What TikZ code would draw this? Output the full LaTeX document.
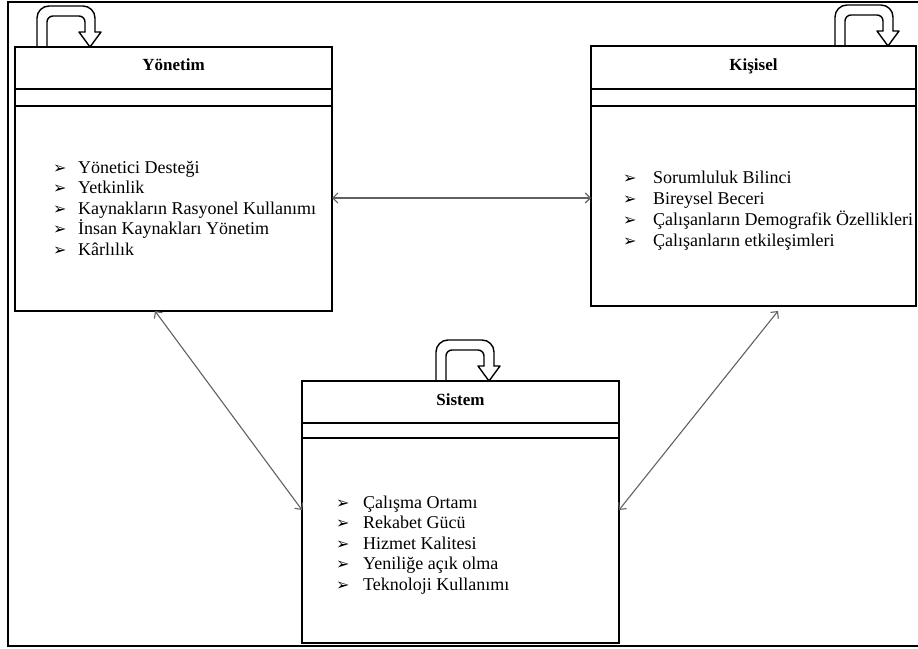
\documentclass[tikz,border=0pt]{standalone}
\usepackage{fontspec}
\setmainfont{Liberation Serif}
\newfontfamily\dejavu{DejaVu Sans}
\usetikzlibrary{arrows.meta}
\tikzset{
  box/.style={draw=black, line width=1.6pt, rectangle, inner sep=0pt, outer sep=0pt},
  sepline/.style={draw=black, line width=1.6pt},
  frame/.style={draw=black, line width=2.5pt},
  conn/.style={draw=black!62, line width=1.1pt, {Straight Barb[length=5pt,width=10pt]}-{Straight Barb[length=5pt,width=10pt]}},
  loopln/.style={draw=black, line width=1.4pt, line cap=round, line join=round},
  ttl/.style={anchor=base, inner sep=0pt, font=\fontsize{17}{20}\selectfont\bfseries},
  item/.style={anchor=base west, inner sep=0pt, font=\fontsize{18}{21}\selectfont},
  bul/.style={anchor=base west, inner sep=0pt, font=\fontsize{16}{18}\dejavu},
  uturn/.pic={
    \draw[loopln, rounded corners=6pt] (10,0) -- (10,-31) -- (48,-31) -- (48,-15);
    \draw[loopln] (48,-15) -- (42,-15) -- (53,0) -- (64,-15) -- (58,-15);
    \draw[loopln, rounded corners=12pt] (58,-15) -- (58,-41) -- (0,-41) -- (0,0);
  }
}
\begin{document}
\begin{tikzpicture}[x=1pt,y=-1pt]
\useasboundingbox (0,0) rectangle (918,648);
\begin{scope}
\clip (0,0) rectangle (918,648);
\draw[frame] (8,2) rectangle (940,646);
\end{scope}

% boxes
\node[box, minimum width=317pt, minimum height=264pt] (yon) at (173.5,179) {};
\node[box, minimum width=325pt, minimum height=260pt] (kis) at (753.5,176) {};
\node[box, minimum width=317pt, minimum height=262pt] (sis) at (460.5,512) {};

\draw[sepline] (yon.west |- 0,89) -- (yon.east |- 0,89);
\draw[sepline] (yon.west |- 0,106) -- (yon.east |- 0,106);
\draw[sepline] (kis.west |- 0,89) -- (kis.east |- 0,89);
\draw[sepline] (kis.west |- 0,106) -- (kis.east |- 0,106);
\draw[sepline] (sis.west |- 0,423) -- (sis.east |- 0,423);
\draw[sepline] (sis.west |- 0,438) -- (sis.east |- 0,438);

% loops
\pic (yloop) at (37,47) {uturn};
\pic (kloop) at (835,46) {uturn};
\pic (sloop) at (436,381) {uturn};

% titles
\node[ttl] (yont) at (173.5,70) {Yönetim};
\node[ttl] (kist) at (753.5,70) {Kişisel};
\node[ttl] (sist) at (460.5,405) {Sistem};

% Yönetim items
\node[bul] (yb1) at (53,173) {➢};
\node[bul] (yb2) at (53,193.6) {➢};
\node[bul] (yb3) at (53,214.2) {➢};
\node[bul] (yb4) at (53,234.8) {➢};
\node[bul] (yb5) at (53,255.4) {➢};
\node[item] (yi1) at (78,173) {Yönetici Desteği};
\node[item] (yi2) at (78,193.6) {Yetkinlik};
\node[item] (yi3) at (78,214.2) {Kaynakların Rasyonel Kullanımı};
\node[item] (yi4) at (78,234.8) {İnsan Kaynakları Yönetim};
\node[item] (yi5) at (78,255.4) {Kârlılık};

% Kişisel items
\node[bul] (kb1) at (623,183) {➢};
\node[bul] (kb2) at (623,204) {➢};
\node[bul] (kb3) at (623,225) {➢};
\node[bul] (kb4) at (623,246) {➢};
\node[item] (ki1) at (653,183) {Sorumluluk Bilinci};
\node[item] (ki2) at (653,204) {Bireysel Beceri};
\node[item] (ki3) at (653,225) {Çalışanların Demografik Özellikleri};
\node[item] (ki4) at (653,246) {Çalışanların etkileşimleri};

% Sistem items
\node[bul] (sb1) at (336,508) {➢};
\node[bul] (sb2) at (336,528.5) {➢};
\node[bul] (sb3) at (336,549) {➢};
\node[bul] (sb4) at (336,569.5) {➢};
\node[bul] (sb5) at (336,590) {➢};
\node[item] (si1) at (363,508) {Çalışma Ortamı};
\node[item] (si2) at (363,528.5) {Rekabet Gücü};
\node[item] (si3) at (363,549) {Hizmet Kalitesi};
\node[item] (si4) at (363,569.5) {Yeniliğe açık olma};
\node[item] (si5) at (363,590) {Teknoloji Kullanımı};

% connectors
\draw[conn] (yon.east |- 0,198) -- (kis.west |- 0,198);
\draw[conn] ([xshift=140pt]yon.south west) -- (sis.west |- 0,510);
\draw[conn] ([xshift=187pt,yshift=-5pt]kis.south west) -- (sis.east |- 0,510);
\end{tikzpicture}
\end{document}
